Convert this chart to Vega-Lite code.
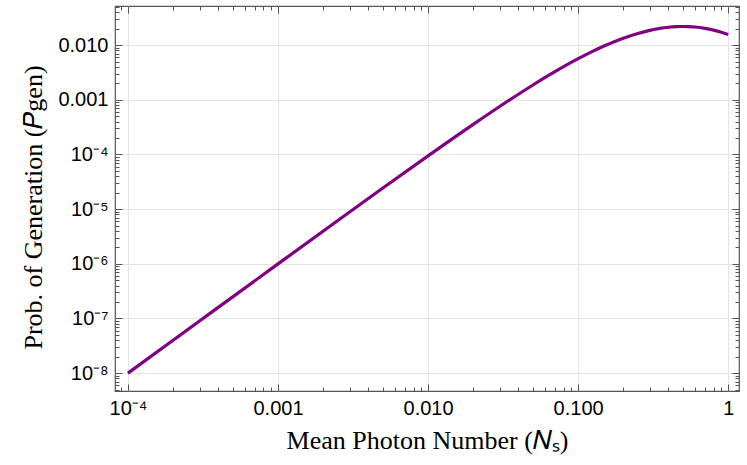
{
  "$schema": "https://vega.github.io/schema/vega-lite/v6.json",
  "width": 624,
  "height": 385,
  "autosize": {"type": "none"},
  "padding": {"left": 115, "top": 6, "right": 8, "bottom": 74},
  "background": "white",
  "config": {
    "view": {"stroke": "#555555", "strokeWidth": 1.2},
    "axis": {
      "domain": false,
      "tickColor": "#555555",
      "labelFont": "Liberation Sans",
      "labelFontSize": 20,
      "labelColor": "black",
      "titleFont": "Liberation Serif",
      "titleFontSize": 26,
      "titleFontWeight": "normal",
      "titleColor": "black",
      "gridColor": "#e4e4e4",
      "gridWidth": 1
    }
  },
  "data": {
    "values": [
      {"Ns": 0.0001, "P": 9.994e-9},
      {"Ns": 0.0003, "P": 8.984e-8},
      {"Ns": 0.001, "P": 9.940e-7},
      {"Ns": 0.003, "P": 8.840e-6},
      {"Ns": 0.005, "P": 2.4263e-5},
      {"Ns": 0.01, "P": 9.420e-5},
      {"Ns": 0.02, "P": 3.552e-4},
      {"Ns": 0.03, "P": 7.537e-4},
      {"Ns": 0.04, "P": 1.2645e-3},
      {"Ns": 0.05, "P": 1.8655e-3},
      {"Ns": 0.07, "P": 3.265e-3},
      {"Ns": 0.1, "P": 5.645e-3},
      {"Ns": 0.12, "P": 7.2954e-3},
      {"Ns": 0.15, "P": 9.727e-3},
      {"Ns": 0.2, "P": 0.013396},
      {"Ns": 0.25, "P": 0.016384},
      {"Ns": 0.3, "P": 0.018646},
      {"Ns": 0.35, "P": 0.020237},
      {"Ns": 0.4, "P": 0.02125},
      {"Ns": 0.45, "P": 0.021788},
      {"Ns": 0.5, "P": 0.021948},
      {"Ns": 0.55, "P": 0.021814},
      {"Ns": 0.6, "P": 0.021458},
      {"Ns": 0.7, "P": 0.0203},
      {"Ns": 0.8, "P": 0.018817},
      {"Ns": 0.9, "P": 0.017217},
      {"Ns": 1.0, "P": 0.015625}
    ]
  },
  "resolve": {"axis": {"x": "independent", "y": "independent"}},
  "layer": [
    {
      "mark": {"type": "line", "color": "#800080", "strokeWidth": 3.2, "interpolate": "monotone", "clip": true},
      "encoding": {
        "x": {
          "field": "Ns", "type": "quantitative",
          "scale": {"type": "log", "domain": [0.000082, 1.18], "nice": false},
          "axis": {
            "orient": "bottom",
            "values": [0.0001, 0.001, 0.01, 0.1, 1],
            "labelExpr": "datum.value < 0.0005 ? '10⁻⁴' : datum.value < 0.005 ? '0.001' : datum.value < 0.05 ? '0.010' : datum.value < 0.5 ? '0.100' : '1'",
            "tickSize": -7,
            "labelPadding": 14,
            "grid": true,
            "title": "Mean Photon Number (𝑁ₛ)",
            "titleBaseline": "alphabetic",
            "titleY": 57
          }
        },
        "y": {
          "field": "P", "type": "quantitative",
          "scale": {"type": "log", "domain": [4.7e-9, 0.052], "nice": false},
          "axis": {
            "orient": "left",
            "values": [1e-8, 1e-7, 1e-6, 1e-5, 1e-4, 0.001, 0.01],
            "labelExpr": "datum.value < 5e-8 ? '10⁻⁸' : datum.value < 5e-7 ? '10⁻⁷' : datum.value < 5e-6 ? '10⁻⁶' : datum.value < 5e-5 ? '10⁻⁵' : datum.value < 5e-4 ? '10⁻⁴' : datum.value < 5e-3 ? '0.001' : '0.010'",
            "tickSize": -7,
            "labelPadding": 14,
            "grid": true,
            "title": "Prob. of Generation (𝑃gen)",
            "titleBaseline": "alphabetic",
            "titleX": -74,
            "titleY": 201
          }
        }
      }
    },
    {
      "mark": {"type": "point", "opacity": 0},
      "encoding": {
        "x": {
          "field": "Ns", "type": "quantitative",
          "scale": {"type": "log", "domain": [0.000082, 1.18], "nice": false},
          "axis": {
            "orient": "bottom",
            "values": [0.00009, 0.0002, 0.0003, 0.0004, 0.0005, 0.0006, 0.0007, 0.0008, 0.0009, 0.002, 0.003, 0.004, 0.005, 0.006, 0.007, 0.008, 0.009, 0.02, 0.03, 0.04, 0.05, 0.06, 0.07, 0.08, 0.09, 0.2, 0.3, 0.4, 0.5, 0.6, 0.7, 0.8, 0.9],
            "tickSize": -4, "labels": false, "grid": false, "title": null
          }
        },
        "y": {
          "field": "P", "type": "quantitative",
          "scale": {"type": "log", "domain": [4.7e-9, 0.052], "nice": false},
          "axis": {
            "orient": "left",
            "values": [5e-9, 6e-9, 7e-9, 8e-9, 9e-9, 2e-8, 3e-8, 4e-8, 5e-8, 6e-8, 7e-8, 8e-8, 9e-8, 2e-7, 3e-7, 4e-7, 5e-7, 6e-7, 7e-7, 8e-7, 9e-7, 2e-6, 3e-6, 4e-6, 5e-6, 6e-6, 7e-6, 8e-6, 9e-6, 2e-5, 3e-5, 4e-5, 5e-5, 6e-5, 7e-5, 8e-5, 9e-5, 2e-4, 3e-4, 4e-4, 5e-4, 6e-4, 7e-4, 8e-4, 9e-4, 0.002, 0.003, 0.004, 0.005, 0.006, 0.007, 0.008, 0.009, 0.02, 0.03, 0.04, 0.05],
            "tickSize": -4, "labels": false, "grid": false, "title": null
          }
        }
      }
    },
    {
      "mark": {"type": "point", "opacity": 0},
      "encoding": {
        "x": {
          "field": "Ns", "type": "quantitative",
          "scale": {"type": "log", "domain": [0.000082, 1.18], "nice": false},
          "axis": {
            "orient": "top",
            "values": [0.0001, 0.001, 0.01, 0.1, 1],
            "tickSize": -7, "labels": false, "grid": false, "title": null
          }
        },
        "y": {
          "field": "P", "type": "quantitative",
          "scale": {"type": "log", "domain": [4.7e-9, 0.052], "nice": false},
          "axis": {
            "orient": "right",
            "values": [1e-8, 1e-7, 1e-6, 1e-5, 1e-4, 0.001, 0.01],
            "tickSize": -7, "labels": false, "grid": false, "title": null
          }
        }
      }
    },
    {
      "mark": {"type": "point", "opacity": 0},
      "encoding": {
        "x": {
          "field": "Ns", "type": "quantitative",
          "scale": {"type": "log", "domain": [0.000082, 1.18], "nice": false},
          "axis": {
            "orient": "top",
            "values": [0.00009, 0.0002, 0.0003, 0.0004, 0.0005, 0.0006, 0.0007, 0.0008, 0.0009, 0.002, 0.003, 0.004, 0.005, 0.006, 0.007, 0.008, 0.009, 0.02, 0.03, 0.04, 0.05, 0.06, 0.07, 0.08, 0.09, 0.2, 0.3, 0.4, 0.5, 0.6, 0.7, 0.8, 0.9],
            "tickSize": -4, "labels": false, "grid": false, "title": null
          }
        },
        "y": {
          "field": "P", "type": "quantitative",
          "scale": {"type": "log", "domain": [4.7e-9, 0.052], "nice": false},
          "axis": {
            "orient": "right",
            "values": [5e-9, 6e-9, 7e-9, 8e-9, 9e-9, 2e-8, 3e-8, 4e-8, 5e-8, 6e-8, 7e-8, 8e-8, 9e-8, 2e-7, 3e-7, 4e-7, 5e-7, 6e-7, 7e-7, 8e-7, 9e-7, 2e-6, 3e-6, 4e-6, 5e-6, 6e-6, 7e-6, 8e-6, 9e-6, 2e-5, 3e-5, 4e-5, 5e-5, 6e-5, 7e-5, 8e-5, 9e-5, 2e-4, 3e-4, 4e-4, 5e-4, 6e-4, 7e-4, 8e-4, 9e-4, 0.002, 0.003, 0.004, 0.005, 0.006, 0.007, 0.008, 0.009, 0.02, 0.03, 0.04, 0.05],
            "tickSize": -4, "labels": false, "grid": false, "title": null
          }
        }
      }
    }
  ]
}
